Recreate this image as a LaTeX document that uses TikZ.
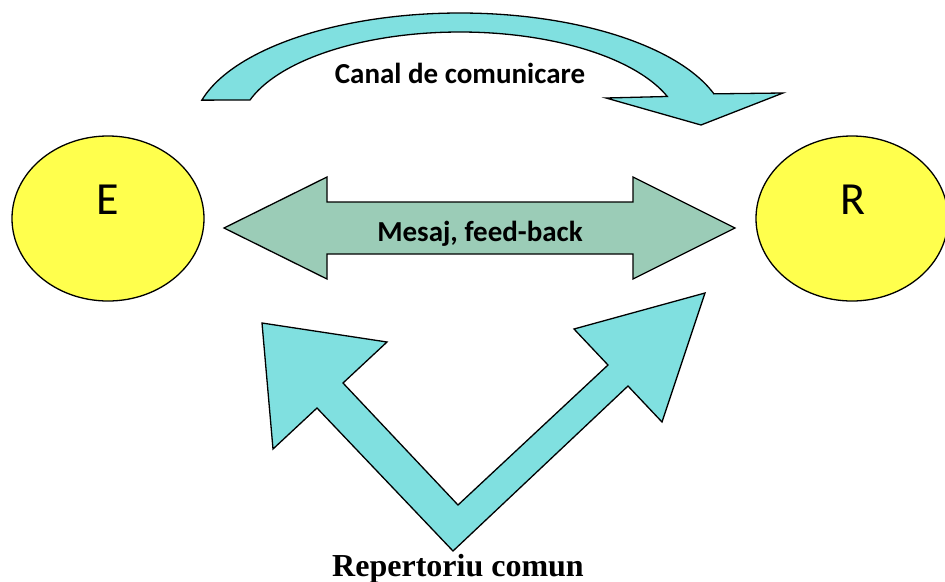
\documentclass[tikz,border=0pt]{standalone}
\usepackage{fontspec}
\setmainfont{Carlito}
\newfontfamily\tnr{Liberation Serif}
\usetikzlibrary{shapes.geometric}
\definecolor{cyanfill}{RGB}{128,224,224}
\definecolor{greenfill}{RGB}{155,204,183}
\definecolor{yellowfill}{RGB}{255,255,77}
\begin{document}
\begin{tikzpicture}[x=1pt,y=-1pt,
  outl/.style={draw=black, line width=1.3pt, line join=miter},
  bubble/.style={ellipse, outl, fill=yellowfill, minimum width=192pt, minimum height=165pt, inner sep=0pt},
  letter/.style={anchor=base, inner sep=0pt, font=\fontsize{46}{52}\selectfont},
  arrowtxt/.style={anchor=base, inner sep=0pt, font=\bfseries\fontsize{29}{34}\selectfont},
  captxt/.style={anchor=base, inner sep=0pt, font=\tnr\bfseries\fontsize{32}{36}\selectfont}]
\useasboundingbox (0,0) rectangle (945,581);

% ellipses
\node[bubble] (E) at (108,218.5) {};
\node[bubble] (R) at (852,218.5) {};
\node[letter] (Elbl) at (108,214) {E};
\node[letter] (Rlbl) at (853,214) {R};

% curved arrow (channel)
\draw[outl, fill=cyanfill]
  plot[domain=194.8:342, samples=90] ({460+267*cos(\x)},{130+117*sin(\x)})
  -- (783,93) -- (701,125) -- (606,98)
  -- plot[domain=340:197.8, samples=90] ({460+220.6*cos(\x)},{130+98*sin(\x)})
  -- cycle;
\node[arrowtxt] (canal) at (460,83) {Canal de comunicare};

% double arrow (message)
\draw[outl, fill=greenfill]
  (224,228) -- (327,177) -- (327,202) -- (633,202) -- (633,177) -- (735,228)
  -- (633,279) -- (633,254) -- (327,254) -- (327,279) -- cycle;
\node[arrowtxt] (mesaj) at (480,241) {Mesaj, feed-back};

% V arrow (common repertoire)
\draw[outl, fill=cyanfill]
  (262,323) -- (387,342) -- (343,383) -- (458,505) -- (608,365) -- (574,329)
  -- (705,293) -- (662,422) -- (628,386) -- (453,551) -- (317,408) -- (273,449) -- cycle;
\node[captxt] (rep) at (458,576) {Repertoriu comun};
\end{tikzpicture}
\end{document}
